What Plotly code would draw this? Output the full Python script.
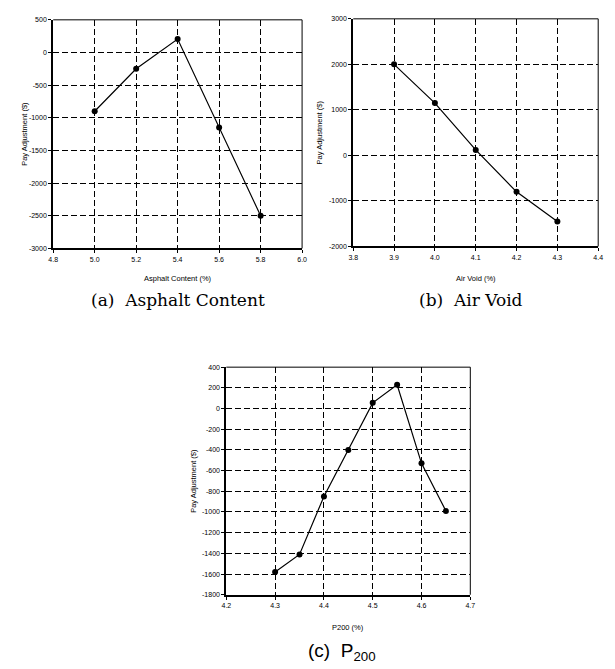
import plotly.graph_objects as go

W, H = 615, 669

# Panel (a): Asphalt Content
a_x = [5.0, 5.2, 5.4, 5.6, 5.8]
a_y = [-900, -250, 205, -1150, -2500]
a_xticks = [4.8, 5.0, 5.2, 5.4, 5.6, 5.8, 6.0]
a_xtext = ["4.8", "5.0", "5.2", "5.4", "5.6", "5.8", "6.0"]
a_yticks = [500, 0, -500, -1000, -1500, -2000, -2500, -3000]

# Panel (b): Air Void
b_x = [3.9, 4.0, 4.1, 4.2, 4.3]
b_y = [2000, 1150, 120, -800, -1450]
b_xticks = [3.8, 3.9, 4.0, 4.1, 4.2, 4.3, 4.4]
b_xtext = ["3.8", "3.9", "4.0", "4.1", "4.2", "4.3", "4.4"]
b_yticks = [3000, 2000, 1000, 0, -1000, -2000]

# Panel (c): P200
c_x = [4.3, 4.35, 4.4, 4.45, 4.5, 4.55, 4.6, 4.65]
c_y = [-1580, -1410, -850, -400, 55, 230, -530, -990]
c_xticks = [4.2, 4.3, 4.4, 4.5, 4.6, 4.7]
c_xtext = ["4.2", "4.3", "4.4", "4.5", "4.6", "4.7"]
c_yticks = [400, 200, 0, -200, -400, -600, -800, -1000, -1200, -1400, -1600, -1800]


def px_x(p):
    return p / W


def px_y(p):
    return 1 - p / H


panels = [
    dict(x=a_x, y=a_y, xt=a_xticks, xtt=a_xtext, yt=a_yticks, xr=[4.8, 6.0], yr=[-3000, 500],
         box=(49, 302, 16, 247), xtitle="Asphalt Content (%)", caption="(a)  Asphalt Content",
         cap_font="DejaVu Serif", cap_size=17,
         ytitle_x=19, cap_y=299, cap_x=176, xt_y=277),
    dict(x=b_x, y=b_y, xt=b_xticks, xtt=b_xtext, yt=b_yticks, xr=[3.8, 4.4], yr=[-2000, 3000],
         box=(354, 603, 15, 245), xtitle="Air Void (%)", caption="(b)  Air Void",
         cap_font="DejaVu Serif", cap_size=17,
         ytitle_x=320, cap_y=299, cap_x=474, xt_y=277),
    dict(x=c_x, y=c_y, xt=c_xticks, xtt=c_xtext, yt=c_yticks, xr=[4.2, 4.7], yr=[-1800, 400],
         box=(225, 473, 367, 597), xtitle="P200 (%)", caption="(c)  P<sub>200</sub>",
         cap_font="Liberation Sans, Arial", cap_size=19,
         ytitle_x=192, cap_y=655, cap_x=343, xt_y=630),
]

fig = go.Figure()
annotations = []
shapes = []
tickfont = dict(family="Liberation Sans, Arial", size=7, color="black")

for i, p in enumerate(panels, start=1):
    xa = "x" if i == 1 else f"x{i}"
    ya = "y" if i == 1 else f"y{i}"
    l, r, t, b = p["box"]
    fig.add_trace(go.Scatter(
        x=p["x"], y=p["y"], mode="lines+markers", xaxis=xa, yaxis=ya,
        line=dict(color="black", width=1.2),
        marker=dict(color="black", size=6, symbol="circle"),
        showlegend=False, hoverinfo="skip",
    ))
    axis_common = dict(
        showgrid=True, gridcolor="black", griddash="6px,3px", gridwidth=1,
        showline=True, linecolor="black", linewidth=2,
        ticks="outside", ticklen=3, tickcolor="black", tickwidth=1,
        tickfont=tickfont, zeroline=False, fixedrange=True,
        ticklabeloverflow="allow",
    )
    fig.update_layout(**{
        ("xaxis" if i == 1 else f"xaxis{i}"): dict(
            domain=[px_x(l), px_x(r)], anchor=ya, range=p["xr"],
            tickmode="array", tickvals=p["xt"], ticktext=p["xtt"], **axis_common),
        ("yaxis" if i == 1 else f"yaxis{i}"): dict(
            domain=[px_y(b), px_y(t)], anchor=xa, range=p["yr"],
            tickmode="array", tickvals=p["yt"], ticktext=[str(v) for v in p["yt"]], **axis_common),
    })
    # thin top and right border
    shapes.append(dict(type="line", xref=f"{xa} domain", yref=f"{ya} domain",
                       x0=0, x1=1, y0=1, y1=1, line=dict(color="black", width=1)))
    shapes.append(dict(type="line", xref=f"{xa} domain", yref=f"{ya} domain",
                       x0=1, x1=1, y0=0, y1=1, line=dict(color="black", width=1)))
    # axis titles
    annotations.append(dict(text=p["xtitle"], x=px_x((l + r) / 2), y=px_y(p["xt_y"]),
                            xref="paper", yref="paper", showarrow=False,
                            font=dict(family="Liberation Sans, Arial", size=7.5, color="black"),
                            xanchor="center", yanchor="middle"))
    annotations.append(dict(text="Pay Adjustment ($)", x=px_x(p["ytitle_x"]), y=px_y((t + b) / 2),
                            xref="paper", yref="paper", showarrow=False, textangle=-90,
                            font=dict(family="Liberation Sans, Arial", size=7.5, color="black"),
                            xanchor="center", yanchor="middle"))
    annotations.append(dict(text=p["caption"], x=px_x(p["cap_x"]), y=px_y(p["cap_y"]),
                            xref="paper", yref="paper", showarrow=False,
                            font=dict(family=p["cap_font"], size=p["cap_size"], color="black"),
                            xanchor="center", yanchor="middle"))

fig.update_layout(
    width=W, height=H, margin=dict(l=0, r=0, t=0, b=0),
    paper_bgcolor="white", plot_bgcolor="white",
    annotations=annotations, shapes=shapes, hovermode=False,
)

fig.write_html(
    "out.html",
    config={"displayModeBar": False, "staticPlot": True},
    post_script="document.body.style.margin='0';document.body.style.overflow='hidden';",
)
